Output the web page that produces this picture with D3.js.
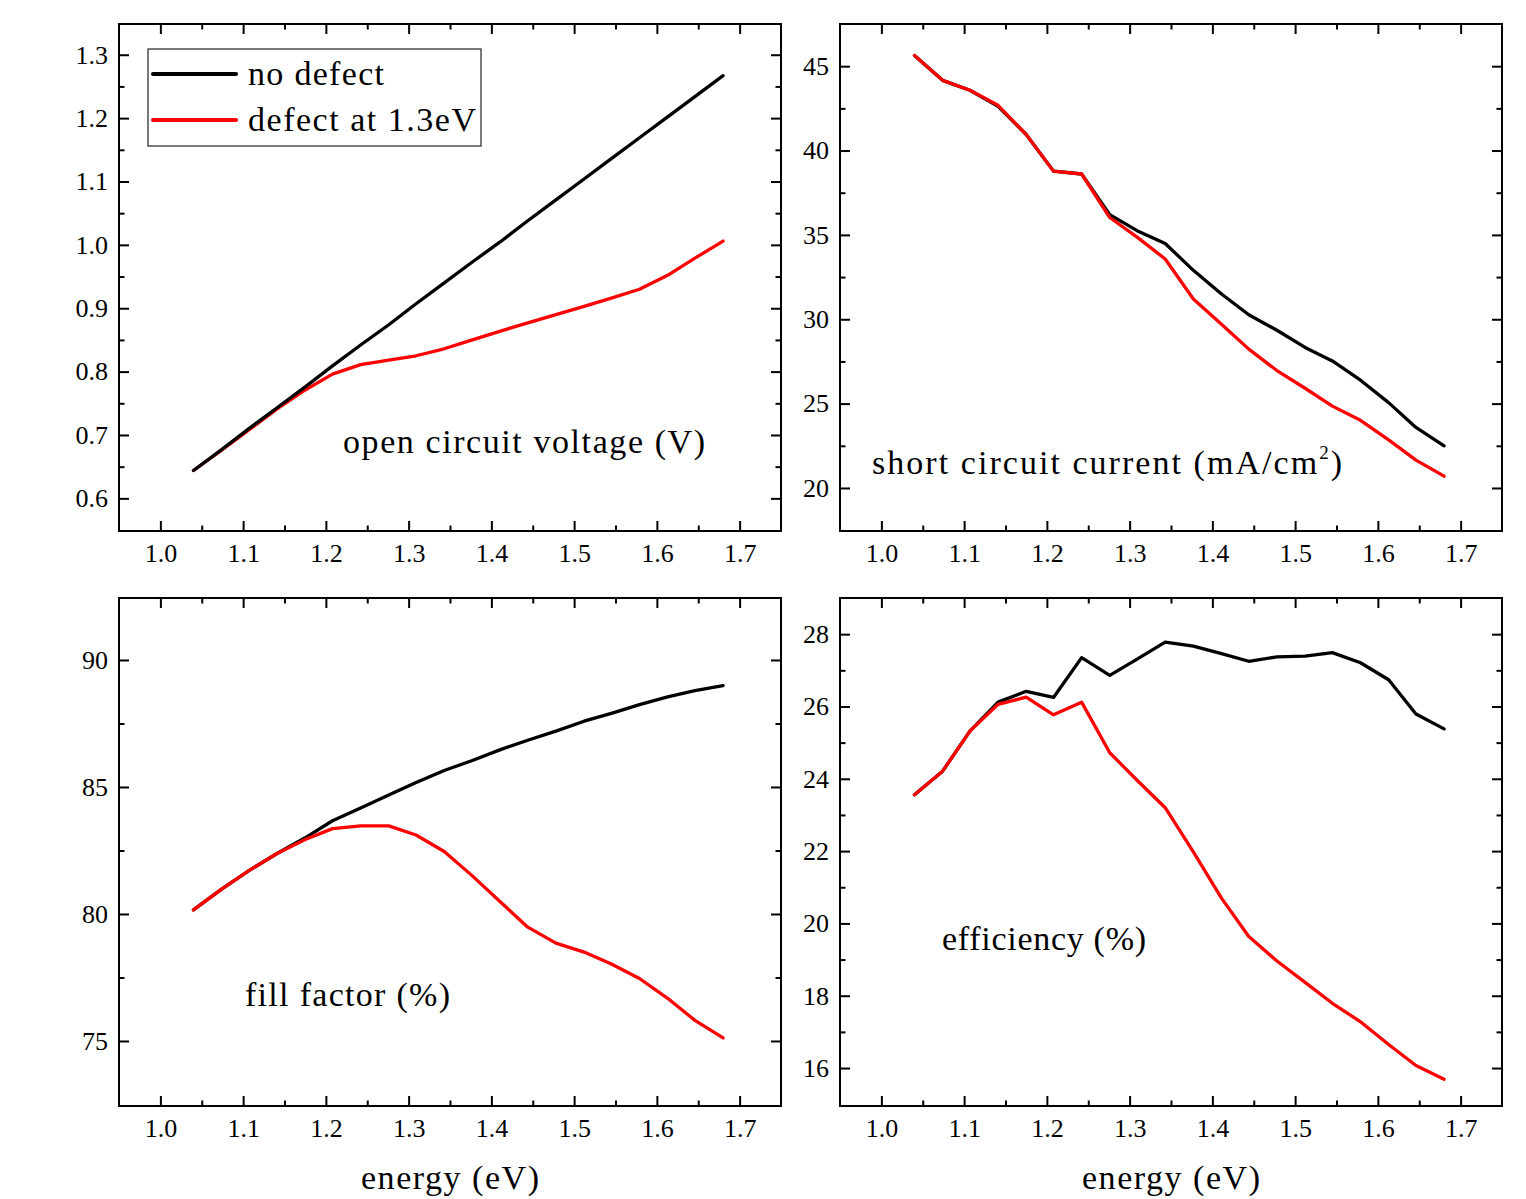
<!DOCTYPE html>
<html>
<head>
<meta charset="utf-8">
<script src="https://cdn.jsdelivr.net/npm/d3@7"></script>
<style>
  body { margin: 0; background: #fff; }
  svg text { font-family: "Liberation Serif", "Times New Roman", serif; fill: #000; }
</style>
</head>
<body>
<div id="main"></div>
<script>
const energy = [1.04, 1.074, 1.107, 1.141, 1.175, 1.208, 1.242, 1.276, 1.309, 1.343,
  1.377, 1.411, 1.444, 1.478, 1.512, 1.545, 1.579, 1.613, 1.646, 1.68];

const vocNoDefect = [0.644, 0.677, 0.710, 0.743, 0.776, 0.809, 0.842, 0.874, 0.907, 0.940,
  0.973, 1.005, 1.038, 1.071, 1.104, 1.136, 1.169, 1.202, 1.234, 1.267];
const vocDefect = [0.644, 0.676, 0.708, 0.741, 0.771, 0.796, 0.811, 0.818, 0.825, 0.836,
  0.850, 0.864, 0.877, 0.890, 0.903, 0.916, 0.930, 0.952, 0.979, 1.006];

const jscNoDefect = [45.63, 44.16, 43.57, 42.62, 40.95, 38.78, 38.61, 36.20, 35.25, 34.49,
  32.90, 31.50, 30.27, 29.35, 28.33, 27.53, 26.39, 25.06, 23.59, 22.50];
const jscDefect = [45.63, 44.16, 43.57, 42.68, 40.95, 38.78, 38.61, 36.03, 34.87, 33.57,
  31.20, 29.70, 28.23, 26.96, 25.91, 24.85, 24.01, 22.85, 21.65, 20.70];

const ffNoDefect = [80.16, 80.98, 81.71, 82.38, 83.00, 83.67, 84.17, 84.68, 85.18, 85.65,
  86.04, 86.47, 86.84, 87.20, 87.59, 87.90, 88.24, 88.55, 88.79, 88.99];
const ffDefect = [80.16, 80.98, 81.71, 82.38, 82.93, 83.36, 83.47, 83.47, 83.11, 82.46,
  81.50, 80.47, 79.48, 78.85, 78.50, 78.03, 77.46, 76.68, 75.81, 75.12];

const effNoDefect = [23.56, 24.21, 25.32, 26.12, 26.42, 26.25, 27.35, 26.86, 27.31, 27.78,
  27.67, 27.46, 27.25, 27.37, 27.39, 27.49, 27.21, 26.74, 25.79, 25.38];
const effDefect = [23.56, 24.21, 25.32, 26.06, 26.26, 25.77, 26.12, 24.72, 23.96, 23.20,
  21.98, 20.70, 19.64, 18.96, 18.37, 17.79, 17.28, 16.65, 16.07, 15.69];

const xTicks = [1.0, 1.1, 1.2, 1.3, 1.4, 1.5, 1.6, 1.7];
const xMinor = [1.05, 1.15, 1.25, 1.35, 1.45, 1.55, 1.65];
const vocTicks = [0.6, 0.7, 0.8, 0.9, 1.0, 1.1, 1.2, 1.3];
const vocMinor = [0.65, 0.75, 0.85, 0.95, 1.05, 1.15, 1.25];
const jscTicks = [20, 25, 30, 35, 40, 45];
const jscMinor = [22.5, 27.5, 32.5, 37.5, 42.5];
const ffTicks = [75, 80, 85, 90];
const ffMinor = [77.5, 82.5, 87.5];
const effTicks = [16, 18, 20, 22, 24, 26, 28];
const effMinor = [17, 19, 21, 23, 25, 27];

const seriesNames = ["no defect", "defect at 1.3eV"];
const seriesColors = ["#000000", "#ff0000"];

const width = 1526;
const height = 1199;
const xDomain = [0.95, 1.75];

const svg = d3.select("#main")
  .append("svg")
  .attr("width", width)
  .attr("height", height);

const styleAxis = (sel) => {
  sel.select(".domain").remove();
  sel.attr("font-family", null).attr("font-size", 26);
  sel.selectAll(".tick line").attr("stroke", "#000").attr("stroke-width", 2);
};

const drawPanel = (p) => {
  const xScale = d3.scaleLinear().domain(xDomain).range([p.left, p.right]);
  const yScale = d3.scaleLinear().domain(p.yDomain).range([p.bottom, p.top]);
  const g = svg.append("g");

  // major + minor ticks on all four sides, pointing inward
  g.append("g")
    .attr("transform", "translate(0," + p.bottom + ")")
    .call(d3.axisBottom(xScale).tickValues(xTicks).tickSize(-10).tickPadding(13).tickFormat(d3.format(".1f")))
    .call(styleAxis);
  g.append("g")
    .attr("transform", "translate(0," + p.bottom + ")")
    .call(d3.axisBottom(xScale).tickValues(xMinor).tickSize(-5.5).tickFormat(""))
    .call(styleAxis);
  g.append("g")
    .attr("transform", "translate(0," + p.top + ")")
    .call(d3.axisTop(xScale).tickValues(xTicks).tickSize(-10).tickFormat(""))
    .call(styleAxis);
  g.append("g")
    .attr("transform", "translate(0," + p.top + ")")
    .call(d3.axisTop(xScale).tickValues(xMinor).tickSize(-5.5).tickFormat(""))
    .call(styleAxis);

  g.append("g")
    .attr("transform", "translate(" + p.left + ",0)")
    .call(d3.axisLeft(yScale).tickValues(p.ticks).tickSize(-10).tickPadding(11).tickFormat(p.format))
    .call(styleAxis);
  g.append("g")
    .attr("transform", "translate(" + p.left + ",0)")
    .call(d3.axisLeft(yScale).tickValues(p.minor).tickSize(-5.5).tickFormat(""))
    .call(styleAxis);
  g.append("g")
    .attr("transform", "translate(" + p.right + ",0)")
    .call(d3.axisRight(yScale).tickValues(p.ticks).tickSize(-10).tickFormat(""))
    .call(styleAxis);
  g.append("g")
    .attr("transform", "translate(" + p.right + ",0)")
    .call(d3.axisRight(yScale).tickValues(p.minor).tickSize(-5.5).tickFormat(""))
    .call(styleAxis);

  g.append("rect")
    .attr("x", p.left)
    .attr("y", p.top)
    .attr("width", p.right - p.left)
    .attr("height", p.bottom - p.top)
    .attr("fill", "none")
    .attr("stroke", "#000")
    .attr("stroke-width", 2);

  const line = d3.line()
    .x((d, i) => xScale(energy[i]))
    .y(d => yScale(d));

  p.order.forEach((k) => {
    g.append("path")
      .datum(p.series[k])
      .attr("d", line)
      .attr("fill", "none")
      .attr("stroke", seriesColors[k])
      .attr("stroke-width", 3.3)
      .attr("stroke-linejoin", "round")
      .attr("stroke-linecap", "round");
  });

  const label = g.append("text")
    .attr("x", p.label.x)
    .attr("y", p.label.y)
    .attr("font-size", 34)
    .attr("textLength", p.label.w)
    .attr("lengthAdjust", "spacing");
  if (p.label.sup) {
    label.append("tspan").text(p.label.text);
    label.append("tspan").attr("dy", -15).attr("font-size", 19).text(p.label.sup);
    label.append("tspan").attr("dy", 15).text(")");
  } else {
    label.text(p.label.text);
  }

  if (p.xTitle) {
    g.append("text")
      .attr("x", (p.left + p.right) / 2)
      .attr("y", 1189)
      .attr("text-anchor", "middle")
      .attr("font-size", 34)
      .attr("textLength", 178)
      .attr("lengthAdjust", "spacing")
      .text("energy (eV)");
  }
  return g;
};

const topLeft = drawPanel({
  left: 119, right: 781, top: 24, bottom: 531,
  yDomain: [0.5485, 1.3485], ticks: vocTicks, minor: vocMinor, format: d3.format(".1f"),
  series: [vocNoDefect, vocDefect], order: [1, 0],
  label: { text: "open circuit voltage (V)", x: 343, y: 453, w: 362 }
});

drawPanel({
  left: 840, right: 1502, top: 24, bottom: 531,
  yDomain: [17.45, 47.5], ticks: jscTicks, minor: jscMinor, format: d3.format("d"),
  series: [jscNoDefect, jscDefect], order: [0, 1],
  label: { text: "short circuit current (mA/cm", sup: "2", x: 872, y: 474, w: 470 }
});

drawPanel({
  left: 119, right: 781, top: 598, bottom: 1106,
  yDomain: [72.44, 92.44], ticks: ffTicks, minor: ffMinor, format: d3.format("d"),
  series: [ffNoDefect, ffDefect], order: [0, 1],
  label: { text: "fill factor (%)", x: 245, y: 1006, w: 205 },
  xTitle: true
});

drawPanel({
  left: 840, right: 1502, top: 598, bottom: 1106,
  yDomain: [14.95, 29.0], ticks: effTicks, minor: effMinor, format: d3.format("d"),
  series: [effNoDefect, effDefect], order: [0, 1],
  label: { text: "efficiency (%)", x: 942, y: 950, w: 204 },
  xTitle: true
});

// legend in the open circuit voltage panel
const legend = topLeft.append("g");
legend.append("rect")
  .attr("x", 148)
  .attr("y", 49)
  .attr("width", 333)
  .attr("height", 97)
  .attr("fill", "#fff")
  .attr("stroke", "#333")
  .attr("stroke-width", 1.3);

const legendWidths = [136, 228];
seriesNames.forEach((name, i) => {
  const y = 74 + i * 46;
  legend.append("line")
    .attr("x1", 153)
    .attr("x2", 236)
    .attr("y1", y)
    .attr("y2", y)
    .attr("stroke", seriesColors[i])
    .attr("stroke-width", 4)
    .attr("stroke-linecap", "round");
  legend.append("text")
    .attr("x", 248)
    .attr("y", y + 11)
    .attr("font-size", 34)
    .attr("textLength", legendWidths[i])
    .attr("lengthAdjust", "spacing")
    .text(name);
});
</script>
</body>
</html>
